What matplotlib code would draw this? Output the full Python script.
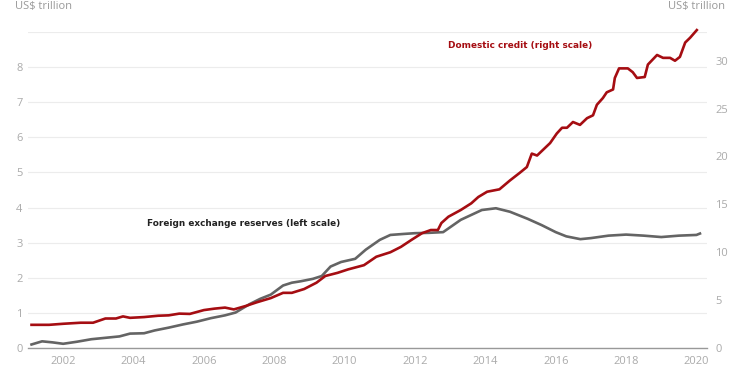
import matplotlib
matplotlib.use("Agg")
import matplotlib.pyplot as plt

# Foreign exchange reserves (left scale, US$ trillion)
fx_years = [2001.1, 2001.4, 2001.7, 2002.0, 2002.4, 2002.8, 2003.2, 2003.6, 2003.9, 2004.3,
            2004.6, 2005.0, 2005.4, 2005.8, 2006.2, 2006.6, 2006.9, 2007.3, 2007.6, 2007.9,
            2008.25, 2008.5, 2008.75, 2009.1, 2009.35, 2009.6, 2009.9, 2010.3, 2010.6, 2011.0,
            2011.3, 2011.7, 2012.0, 2012.4, 2012.8, 2013.3, 2013.9, 2014.3, 2014.7, 2015.2,
            2015.6, 2016.0, 2016.3, 2016.7, 2017.0, 2017.5, 2018.0, 2018.5, 2019.0, 2019.5,
            2020.0, 2020.1]
fx_values = [0.10, 0.19, 0.16, 0.12, 0.18, 0.25, 0.29, 0.33, 0.41, 0.42,
             0.50, 0.58, 0.67, 0.75, 0.85, 0.93, 1.01, 1.25, 1.40, 1.52,
             1.78, 1.86, 1.90, 1.97, 2.05, 2.32, 2.45, 2.54, 2.80, 3.08,
             3.22, 3.25, 3.27, 3.28, 3.30, 3.65, 3.93, 3.98, 3.88, 3.68,
             3.50, 3.30, 3.18, 3.10, 3.13, 3.20, 3.23, 3.20, 3.16, 3.20,
             3.22, 3.26]

# Domestic credit (right scale, US$ trillion)
dc_years = [2001.1, 2001.6, 2002.0, 2002.5, 2002.85, 2003.2, 2003.5, 2003.7, 2003.9, 2004.3,
            2004.7, 2005.0, 2005.3, 2005.6, 2006.0, 2006.3, 2006.6, 2006.85, 2007.2, 2007.5,
            2007.9, 2008.25, 2008.5, 2008.85, 2009.2, 2009.45, 2009.8, 2010.1, 2010.55, 2010.9,
            2011.3, 2011.6, 2011.9, 2012.2, 2012.45, 2012.65, 2012.75, 2012.95, 2013.3, 2013.6,
            2013.8, 2014.05, 2014.4, 2014.7, 2014.98, 2015.18, 2015.32, 2015.47, 2015.84, 2016.03,
            2016.18, 2016.32, 2016.49, 2016.69, 2016.89, 2017.06, 2017.17, 2017.34, 2017.45, 2017.63,
            2017.68, 2017.80, 2018.05, 2018.19, 2018.31, 2018.53, 2018.62, 2018.88, 2019.05, 2019.25,
            2019.39, 2019.53, 2019.68, 2019.82, 2020.01]
dc_values = [2.42, 2.42, 2.53, 2.64, 2.64, 3.08, 3.08, 3.30, 3.15, 3.23,
             3.37, 3.41, 3.59, 3.56, 3.96, 4.11, 4.22, 4.03, 4.40, 4.77,
             5.21, 5.76, 5.76, 6.16, 6.82, 7.52, 7.85, 8.21, 8.65, 9.53,
             10.0, 10.56, 11.29, 11.99, 12.32, 12.32, 13.05, 13.71, 14.41, 15.11,
             15.77, 16.32, 16.57, 17.5, 18.3, 18.9, 20.3, 20.1, 21.4, 22.4,
             23.0, 23.0, 23.6, 23.3, 24.0, 24.3, 25.4, 26.1, 26.7, 27.0,
             28.2, 29.2, 29.2, 28.8, 28.2, 28.3, 29.6, 30.6, 30.3, 30.3,
             30.0, 30.4, 31.9, 32.4, 33.2]

x_ticks = [2002, 2004, 2006, 2008, 2010, 2012, 2014, 2016, 2018, 2020]
left_ticks = [0, 1, 2, 3, 4, 5, 6, 7, 8, 9]
left_labels = ["0", "1", "2", "3", "4", "5", "6", "7", "8", ""]
right_ticks = [0, 5, 10, 15, 20, 25, 30]

GRAY = "#646464"
RED = "#a50d12"
TICK = "#aaaaaa"

plt.rcParams["font.family"] = ["Open Sans", "DejaVu Sans"]

fig = plt.figure(figsize=(7.54, 3.74), dpi=100)
ax = fig.add_axes([28 / 754, 1 - 348 / 374, (707 - 28) / 754, (348 - 32) / 374])
ax2 = ax.twinx()

ax.plot(fx_years, fx_values, color=GRAY, lw=1.9, solid_joinstyle="round", zorder=3)
ax2.plot(dc_years, dc_values, color=RED, lw=1.9, solid_joinstyle="round", clip_on=False, zorder=3)

ax.set_xlim(2001.0, 2020.3)
ax.set_ylim(0, 9)
ax2.set_ylim(0, 33)

ax.set_xticks(x_ticks)
ax.set_xticklabels([str(t) for t in x_ticks])
ax.set_yticks(left_ticks)
ax.set_yticklabels(left_labels)
ax2.set_yticks(right_ticks)

ax.grid(axis="y", color="#ececec", lw=0.8)
ax.set_axisbelow(True)

for a in (ax, ax2):
    for s in ("top", "right", "left", "bottom"):
        a.spines[s].set_visible(False)
ax.spines["bottom"].set_visible(True)
ax.spines["bottom"].set_color("#999999")
ax.spines["bottom"].set_linewidth(1.0)

ax.tick_params(axis="x", length=0, pad=6, labelsize=8, labelcolor=TICK)
ax.tick_params(axis="y", length=0, pad=4, labelsize=8, labelcolor=TICK)
ax2.tick_params(axis="y", length=0, pad=6, labelsize=8, labelcolor=TICK)

fig.text(15 / 754, 1 - 7 / 374, "US$ trillion", ha="left", va="center", fontsize=8, color="#999999")
fig.text(725 / 754, 1 - 6 / 374, "US$ trillion", ha="right", va="center", fontsize=8, color="#999999")

fig.text(448 / 754, 1 - 46 / 374, "Domestic credit (right scale)", ha="left", va="center",
         fontsize=6.4, fontweight="bold", color=RED, family="DejaVu Sans")
fig.text(147 / 754, 1 - 223 / 374, "Foreign exchange reserves (left scale)", ha="left", va="center",
         fontsize=6.4, fontweight="bold", color="#222222", family="DejaVu Sans")

fig.savefig("out.png", dpi=100)
